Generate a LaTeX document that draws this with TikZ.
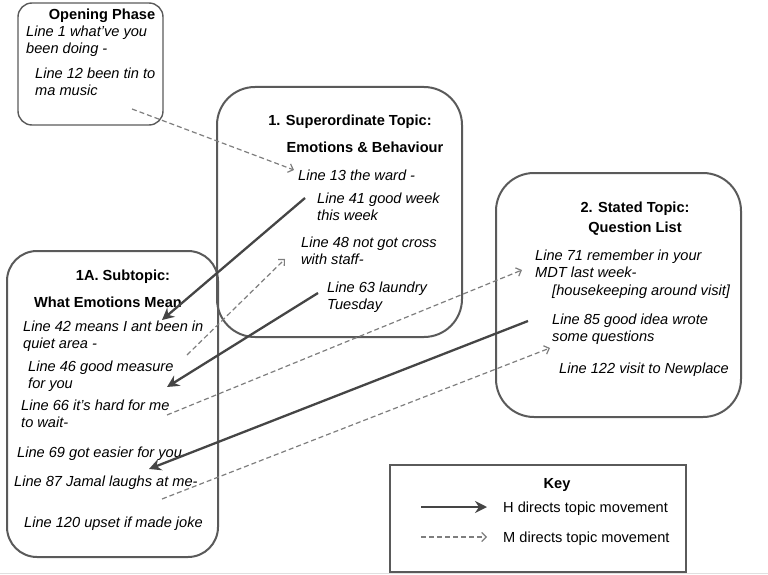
\documentclass[tikz,border=0pt]{standalone}
\usepackage{fontspec}
\setmainfont{Liberation Sans}
\usepackage{tikz}
\usetikzlibrary{positioning,arrows.meta}
\definecolor{boxgrey}{HTML}{5A5A5A}
\definecolor{hgrey}{HTML}{454545}
\definecolor{mgrey}{HTML}{7E7E7E}

\begin{document}
\begin{tikzpicture}[
  x=1pt, y=-1pt,
  linetxt/.style={font=\fontsize{14.6}{17}\selectfont\itshape, inner sep=0pt, align=left},
  headtxt/.style={font=\fontsize{14.6}{17}\selectfont\bfseries, inner sep=0pt},
  keytxt/.style={font=\fontsize{14.6}{17}\selectfont, inner sep=0pt},
  topicbox/.style={draw=boxgrey, line width=2pt},
  hmove/.style={draw=hgrey, line width=2.3pt, -{Stealth[length=12pt,width=12pt,inset=4pt]}},
  mmove/.style={draw=mgrey, line width=1.2pt, dash pattern=on 5pt off 3pt, -{Straight Barb[length=4.5pt,width=9pt]}},
]
\useasboundingbox (0,0) rectangle (768,575);
\draw[black!12, line width=1.5pt] (0,573.5) -- (768,573.5);

% Opening phase
\draw[topicbox, line width=1.4pt, rounded corners=14pt] (18,3) rectangle (163,125);
\node[headtxt, anchor=base] (open) at (102,20) {Opening Phase};
\node[linetxt, anchor=north west] (l1) at (26,26) {Line 1 what've you\\been doing -};
\node[linetxt, anchor=north west] (l12) at (35,68) {Line 12 been tin to\\ma music};

% 1. Superordinate topic
\draw[topicbox, rounded corners=38pt] (217,87) rectangle (462,337);
\node[headtxt, anchor=base] (sup1) at (350,126) {1. Superordinate Topic:};
\node[headtxt, anchor=base] (sup2) at (365,152) {Emotions \& Behaviour};
\node[linetxt, anchor=base west] (l13) at (298,180) {Line 13 the ward -};
\node[linetxt, anchor=north west] (l41) at (317,193) {Line 41 good week\\this week};
\node[linetxt, anchor=north west] (l48) at (301,237) {Line 48 not got cross\\with staff-};
\node[linetxt, anchor=north west] (l63) at (327,282) {Line 63 laundry\\Tuesday};

% 1A. Subtopic
\draw[topicbox, rounded corners=30pt] (7,251) rectangle (218,557);
\node[headtxt, anchor=base] (sub1) at (123,280) {1A. Subtopic:};
\node[headtxt, anchor=base] (sub2) at (108,307) {What Emotions Mean};
\node[linetxt, anchor=north west] (l42) at (23,321) {Line 42 means I ant been in\\quiet area -};
\node[linetxt, anchor=north west] (l46) at (28,361) {Line 46 good measure\\for you};
\node[linetxt, anchor=north west] (l66) at (21,400) {Line 66 it's hard for me\\to wait-};
\node[linetxt, anchor=base west] (l69) at (17,457) {Line 69 got easier for you};
\node[linetxt, anchor=base west] (l87) at (14,486) {Line 87 Jamal laughs at me-};
\node[linetxt, anchor=base west] (l120) at (24,527) {Line 120 upset if made joke};

% 2. Stated topic
\draw[topicbox, rounded corners=38pt] (496,173) rectangle (741,417);
\node[headtxt, anchor=base] (st1) at (635,212) {2. Stated Topic:};
\node[headtxt, anchor=base] (st2) at (635,232) {Question List};
\node[linetxt, anchor=north west] (l71) at (535,250) {Line 71 remember in your\\MDT last week-};
\node[linetxt, anchor=base west] (hk) at (552,295) {[housekeeping around visit]};
\node[linetxt, anchor=north west] (l85) at (552,314) {Line 85 good idea wrote\\some questions};
\node[linetxt, anchor=base west] (l122) at (559,373) {Line 122 visit to Newplace};

% arrow ends
\coordinate (o12) at (132,109);  \coordinate (i13) at (294,170);
\coordinate (o41) at (305,198);  \coordinate (i42) at (162,320);
\coordinate (o63) at (318,293);  \coordinate (i46) at (167,387);
\coordinate (o85) at (528,321);  \coordinate (i69) at (149,469);
\coordinate (o42) at (187,355);  \coordinate (i48) at (285,259);
\coordinate (o66) at (167,415);  \coordinate (i71) at (522,270);
\coordinate (o87) at (162,499);  \coordinate (i85) at (550,348);

\foreach \a/\b in {o41/i42, o63/i46, o85/i69}
  \draw[hmove] (\a) -- (\b);
\foreach \a/\b in {o12/i13, o42/i48, o66/i71, o87/i85}
  \draw[mmove] (\a) -- (\b);

% Key
\draw[boxgrey, line width=1.6pt] (390,465) rectangle (686,572);
\node[headtxt, anchor=base] (key) at (557,488) {Key};
\coordinate (kh1) at (421,507); \coordinate (kh2) at (487,507);
\coordinate (km1) at (421,537); \coordinate (km2) at (487,537);
\draw[hmove] (kh1) -- (kh2);
\draw[mmove] (km1) -- (km2);
\node[keytxt, anchor=base west] (keyh) at (503,512) {H directs topic movement};
\node[keytxt, anchor=base west] (keym) at (503,542) {M directs topic movement};
\end{tikzpicture}
\end{document}
